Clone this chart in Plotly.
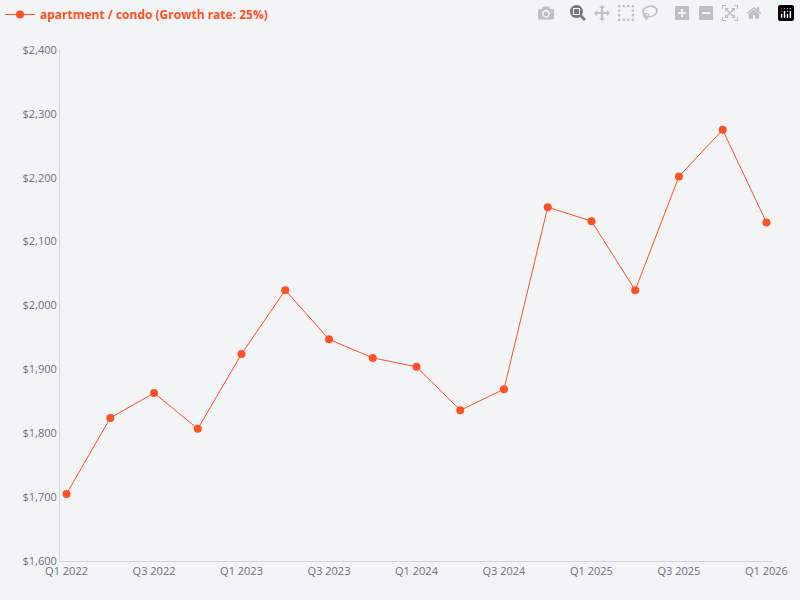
import plotly.graph_objs as go

quarters = ["Q1 2022", "Q2 2022", "Q3 2022", "Q4 2022",
            "Q1 2023", "Q2 2023", "Q3 2023", "Q4 2023",
            "Q1 2024", "Q2 2024", "Q3 2024", "Q4 2024",
            "Q1 2025", "Q2 2025", "Q3 2025", "Q4 2025",
            "Q1 2026"]
prices = [1705, 1824, 1863, 1807, 1924, 2024, 1947, 1918, 1904,
          1836, 1869, 2154, 2132, 2024, 2202, 2275, 2130]
tick_labels = quarters[::2]

color = "#FF5126"

trace = go.Scatter(
    x=list(range(len(quarters))), y=prices, mode="lines+markers",
    name="<b>apartment / condo (Growth rate: 25%)</b>",
    line=dict(color=color, width=1), marker=dict(color=color, size=8),
)

layout = go.Layout(
    width=800, height=600,
    paper_bgcolor="#F3F4F6", plot_bgcolor="#F3F4F6",
    font=dict(family="Open Sans", size=11, color="#6B7280"),
    margin=dict(l=60, r=15, t=50, b=39),
    showlegend=True,
    legend=dict(x=-0.095, y=1, xref="paper", yref="container", xanchor="left", yanchor="top",
                orientation="h", font=dict(color=color, size=12),
                itemwidth=30, bgcolor="rgba(0,0,0,0)"),
    xaxis=dict(tickmode="array", tickvals=list(range(0, len(quarters), 2)),
               ticktext=tick_labels, range=[-0.15, len(quarters) - 0.85],
               showgrid=False, zeroline=False, showline=True,
               linecolor="#D1D5DB", ticks="", fixedrange=True),
    yaxis=dict(range=[1600, 2400], dtick=100, tickprefix="$", tickformat=",",
               showgrid=False, zeroline=False, showline=True,
               linecolor="#D1D5DB", ticks=""),
)

fig = go.Figure(data=[trace], layout=layout)
fig.write_html("out.html",
               post_script="document.body.style.margin='0';document.body.style.overflow='hidden';")
